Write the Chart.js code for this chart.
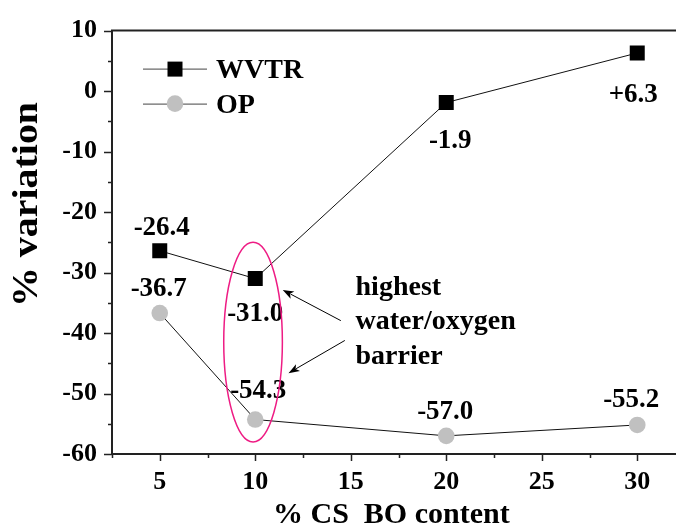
<!DOCTYPE html>
<html>
<head>
<meta charset="utf-8">
<script src="https://cdn.jsdelivr.net/npm/chart.js@4/dist/chart.umd.min.js"></script>
<style>
html, body { margin: 0; padding: 0; background: #fff; overflow: hidden; }
#wrap { width: 700px; height: 529px; }
</style>
</head>
<body>
<div id="wrap"><canvas id="chart" width="700" height="529"></canvas></div>
<script>
// % CS BO content (x) vs % variation (y)
const contents = [5, 10, 20, 30];
const wvtrVariation = [-26.4, -31.0, -1.9, 6.3];
const opVariation = [-36.7, -54.3, -57.0, -55.2];
const xTicks = [5, 10, 15, 20, 25, 30];
const yTicks = [-60, -50, -40, -30, -20, -10, 0, 10];
const noteLines = ['highest', 'water/oxygen', 'barrier'];

// where the value labels sit relative to their point (px)
const wvtrLabelShift = [[2, -16], [0, 42], [4, 45], [-4, 49]];
const opLabelShift = [[-1, -17], [3, -22], [-1, -17], [-6, -18]];

const FONT = "'Liberation Serif', 'Times New Roman', serif";
const INK = '#222';

function fmt(v) {
    return (v > 0 ? '+' : '') + v.toFixed(1);
}

function toPoints(xs, ys) {
    return xs.map((x, i) => ({ x: x, y: ys[i] }));
}

// axis frame, tick marks and axis titles
const framePlugin = {
    id: 'frame',
    afterDraw(chart) {
        const ctx = chart.ctx;
        const a = chart.chartArea;
        const xs = chart.scales.x;
        const ys = chart.scales.y;
        ctx.save();
        ctx.strokeStyle = INK;
        ctx.lineWidth = 2;
        ctx.beginPath();
        ctx.moveTo(a.left, a.bottom);
        ctx.lineTo(a.left, a.top);
        ctx.lineTo(a.right, a.top);
        ctx.lineTo(a.right, a.bottom);
        ctx.lineTo(a.left, a.bottom);
        ctx.stroke();

        ctx.lineWidth = 1.5;
        ctx.beginPath();
        for (let v = yTicks[0]; v <= yTicks[yTicks.length - 1]; v += 5) {
            const y = Math.round(ys.getPixelForValue(v)) + 0.5;
            const len = v % 10 === 0 ? 8 : 4;
            ctx.moveTo(a.left, y);
            ctx.lineTo(a.left - len, y);
        }
        for (let v = xTicks[0] - 2.5; v <= xTicks[xTicks.length - 1] + 2.5; v += 2.5) {
            const x = Math.round(xs.getPixelForValue(v)) + 0.5;
            const len = v % 5 === 0 ? 7 : 4;
            ctx.moveTo(x, a.bottom);
            ctx.lineTo(x, a.bottom + len);
        }
        ctx.stroke();

        ctx.fillStyle = '#000';
        ctx.font = 'bold 30px ' + FONT;
        ctx.textAlign = 'left';
        ctx.textBaseline = 'alphabetic';
        ctx.fillText('% CS  BO content', 273, 523);

        ctx.translate(37, 307);
        ctx.rotate(-Math.PI / 2);
        ctx.scale(1.14, 1);
        ctx.font = 'bold 35px ' + FONT;
        ctx.fillText('% variation', 0, 0);
        ctx.restore();
    }
};

// legend drawn inside the plot, line + marker style
const legendPlugin = {
    id: 'innerLegend',
    afterDraw(chart) {
        const ctx = chart.ctx;
        const a = chart.chartArea;
        ctx.save();
        ctx.font = 'bold 28px ' + FONT;
        ctx.textBaseline = 'middle';
        ctx.textAlign = 'left';
        chart.data.datasets.forEach((ds, i) => {
            const y = a.top + 38 + i * 35;
            const x0 = a.left + 31;
            const x1 = a.left + 95;
            const cx = a.left + 63;
            ctx.strokeStyle = '#444';
            ctx.lineWidth = 1;
            ctx.beginPath();
            ctx.moveTo(x0, y + 0.5);
            ctx.lineTo(x1, y + 0.5);
            ctx.stroke();
            ctx.fillStyle = ds.backgroundColor;
            if (ds.pointStyle === 'rect') {
                ctx.fillRect(cx - 7.5, y - 7, 15, 15);
            } else {
                ctx.beginPath();
                ctx.arc(cx, y, 8.3, 0, Math.PI * 2);
                ctx.fill();
            }
            ctx.fillStyle = '#000';
            ctx.fillText(ds.label, a.left + 104, y + 2);
        });
        ctx.restore();
    }
};

// value labels next to each point
const valueLabelPlugin = {
    id: 'valueLabels',
    afterDatasetsDraw(chart) {
        const ctx = chart.ctx;
        const shifts = [wvtrLabelShift, opLabelShift];
        ctx.save();
        ctx.font = 'bold 27px ' + FONT;
        ctx.fillStyle = '#000';
        ctx.textAlign = 'center';
        ctx.textBaseline = 'alphabetic';
        chart.data.datasets.forEach((ds, di) => {
            const meta = chart.getDatasetMeta(di);
            meta.data.forEach((pt, i) => {
                const s = shifts[di][i];
                ctx.fillText(fmt(ds.data[i].y), pt.x + s[0], pt.y + s[1]);
            });
        });
        ctx.restore();
    }
};

// ellipse, arrows and note text (positions in data units)
const notePlugin = {
    id: 'note',
    afterDatasetsDraw(chart) {
        const ctx = chart.ctx;
        const xs = chart.scales.x;
        const ys = chart.scales.y;
        const px = v => xs.getPixelForValue(v);
        const py = v => ys.getPixelForValue(v);
        ctx.save();

        const cx = px(9.885), cy = py(-41.5);
        const rx = px(9.885 + 1.535) - cx;
        const ry = py(-41.5 - 16.5) - cy;
        ctx.strokeStyle = '#ee1c84';
        ctx.lineWidth = 1.5;
        ctx.beginPath();
        ctx.ellipse(cx, cy, rx, ry, 0, 0, Math.PI * 2);
        ctx.stroke();

        const arrows = [
            [14.48, -37.95, 11.44, -32.88],
            [14.69, -41.23, 11.74, -46.63]
        ];
        ctx.strokeStyle = '#000';
        ctx.fillStyle = '#000';
        ctx.lineWidth = 1;
        arrows.forEach(([x0, y0, x1, y1]) => {
            const ax = px(x0), ay = py(y0), bx = px(x1), by = py(y1);
            const ang = Math.atan2(by - ay, bx - ax);
            const hl = 11, hw = 4;
            ctx.beginPath();
            ctx.moveTo(ax, ay);
            ctx.lineTo(bx - Math.cos(ang) * hl * 0.8, by - Math.sin(ang) * hl * 0.8);
            ctx.stroke();
            ctx.beginPath();
            ctx.moveTo(bx, by);
            ctx.lineTo(bx - Math.cos(ang) * hl + Math.sin(ang) * hw, by - Math.sin(ang) * hl - Math.cos(ang) * hw);
            ctx.lineTo(bx - Math.cos(ang) * hl * 0.75, by - Math.sin(ang) * hl * 0.75);
            ctx.lineTo(bx - Math.cos(ang) * hl - Math.sin(ang) * hw, by - Math.sin(ang) * hl + Math.cos(ang) * hw);
            ctx.closePath();
            ctx.fill();
        });

        const noteY = [-33.7, -39.3, -45.2];
        ctx.font = 'bold 28px ' + FONT;
        ctx.textAlign = 'left';
        ctx.textBaseline = 'alphabetic';
        noteLines.forEach((t, i) => {
            ctx.fillText(t, px(15.25), py(noteY[i]));
        });
        ctx.restore();
    }
};

const ctx = document.getElementById('chart').getContext('2d');

new Chart(ctx, {
    type: 'line',
    data: {
        datasets: [
            {
                label: 'WVTR',
                data: toPoints(contents, wvtrVariation),
                borderColor: '#111',
                borderWidth: 1,
                backgroundColor: '#000',
                pointStyle: 'rect',
                pointRadius: 10.6,
                pointBorderWidth: 0,
                pointBackgroundColor: '#000',
                pointBorderColor: '#000'
            },
            {
                label: 'OP',
                data: toPoints(contents, opVariation),
                borderColor: '#111',
                borderWidth: 1,
                backgroundColor: '#c0c0c0',
                pointStyle: 'circle',
                pointRadius: 8.3,
                pointBorderWidth: 0,
                pointBackgroundColor: '#c0c0c0',
                pointBorderColor: '#c0c0c0'
            }
        ]
    },
    options: {
        responsive: false,
        animation: false,
        devicePixelRatio: 1,
        layout: { padding: { top: 26, right: 15, left: 0, bottom: 0 } },
        plugins: {
            legend: { display: false },
            tooltip: { enabled: false }
        },
        scales: {
            x: {
                type: 'linear',
                min: 2.5,
                max: 32.5,
                grid: { display: false, drawTicks: false },
                border: { display: false },
                afterBuildTicks: scale => { scale.ticks = xTicks.map(v => ({ value: v })); },
                afterFit: scale => { scale.height = 75; },
                ticks: {
                    padding: 13,
                    color: '#000',
                    maxRotation: 0,
                    font: { family: FONT, size: 26, weight: 'bold' }
                }
            },
            y: {
                type: 'linear',
                min: -60,
                max: 10,
                grid: { display: false, drawTicks: false },
                border: { display: false },
                afterBuildTicks: scale => { scale.ticks = yTicks.map(v => ({ value: v })); },
                afterFit: scale => { scale.width = 112; },
                ticks: {
                    padding: 15,
                    color: '#000',
                    font: { family: FONT, size: 26, weight: 'bold' }
                }
            }
        }
    },
    plugins: [framePlugin, legendPlugin, valueLabelPlugin, notePlugin]
});
</script>
</body>
</html>
